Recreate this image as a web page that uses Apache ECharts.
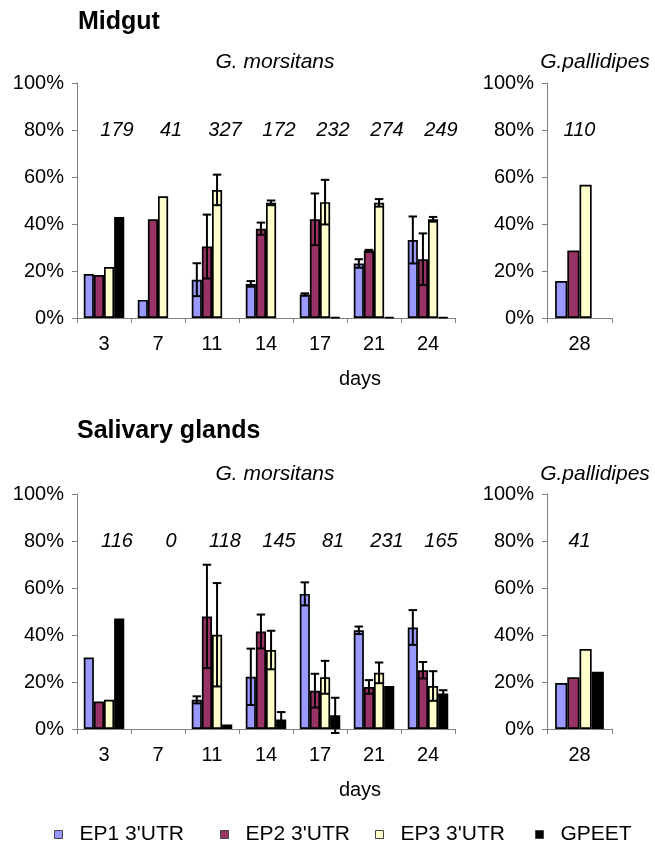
<!DOCTYPE html>
<html><head><meta charset="utf-8">
<script src="https://cdn.jsdelivr.net/npm/echarts@6/dist/echarts.min.js"></script>
<style>html,body{margin:0;padding:0;background:#fff}#c{width:655px;height:842px}</style>
</head><body><div id="c"></div>
<script>
// ---------- data ----------
const seriesNames = ["EP1 3'UTR", "EP2 3'UTR", "EP3 3'UTR", "GPEET"];
const seriesColors = ['#9999FF', '#993366', '#FFFFCC', '#000000'];
const morsDays = ['3', '7', '11', '14', '17', '21', '24'];
const pallDays = ['28'];
const yTicks = [0, 20, 40, 60, 80, 100];

// Midgut – G. morsitans
const midEP1 = [18.7, 7.7, 16.3, 14.5, 10.0, 23.2, 33.2];
const midEP2 = [18.3, 42.0, 30.4, 38.0, 42.0, 28.6, 25.0];
const midEP3 = [21.7, 51.8, 54.5, 49.0, 49.3, 49.0, 42.0];
const midGPEET = [43.0, null, null, null, 0.4, 0.4, 0.4];
const midEP1Err = [null, null, 7.0, 1.2, 0.5, 1.8, 10.0];
const midEP2Err = [null, null, 13.6, 2.6, 11.0, 0.4, 11.0];
const midEP3Err = [null, null, 6.5, 1.0, 9.5, 1.6, 1.0];
const midGPEETErr = [null, null, null, null, null, null, null];
const midCounts = [179, 41, 327, 172, 232, 274, 249];

// Midgut – G. pallidipes
const midPallEP1 = [15.7];
const midPallEP2 = [28.7];
const midPallEP3 = [56.7];
const midPallGPEET = [null];
const midPallCounts = [110];

// Salivary glands – G. morsitans
const salEP1 = [30.4, null, 12.4, 22.2, 57.5, 42.0, 43.2];
const salEP2 = [11.7, null, 47.9, 41.5, 16.3, 17.9, 25.0];
const salEP3 = [12.4, null, 40.1, 33.6, 22.0, 23.9, 18.3];
const salGPEET = [47.0, null, 1.9, 4.0, 5.8, 18.3, 15.1];
const salEP1Err = [null, null, 1.5, 12.0, 4.9, 1.6, 7.4];
const salEP2Err = [null, null, 22.0, 7.2, 7.2, 2.9, 3.5];
const salEP3Err = [null, null, 22.0, 8.2, 7.0, 4.4, 6.3];
const salGPEETErr = [null, null, null, 3.2, 7.5, null, 1.4];
const salCounts = [116, 0, 118, 145, 81, 231, 165];

// Salivary glands – G. pallidipes
const salPallEP1 = [19.6];
const salPallEP2 = [22.0];
const salPallEP3 = [34.0];
const salPallGPEET = [24.4];
const salPallCounts = [41];

// ---------- layout ----------
const FONT = 'Liberation Sans, Arial, Helvetica, sans-serif';
const GAP = 0.25;
const panels = [
  { grid: { left: 77, top: 83, width: 378, height: 235 }, cats: morsDays,
    vals: [midEP1, midEP2, midEP3, midGPEET], errs: [midEP1Err, midEP2Err, midEP3Err, midGPEETErr], counts: midCounts },
  { grid: { left: 547, top: 83, width: 65, height: 235 }, cats: pallDays,
    vals: [midPallEP1, midPallEP2, midPallEP3, midPallGPEET], errs: null, counts: midPallCounts },
  { grid: { left: 77, top: 494, width: 378, height: 235 }, cats: morsDays,
    vals: [salEP1, salEP2, salEP3, salGPEET], errs: [salEP1Err, salEP2Err, salEP3Err, salGPEETErr], counts: salCounts },
  { grid: { left: 547, top: 494, width: 65, height: 235 }, cats: pallDays,
    vals: [salPallEP1, salPallEP2, salPallEP3, salPallGPEET], errs: null, counts: salPallCounts }
];

const grids = [], xAxes = [], yAxes = [], series = [];
panels.forEach((p, gi) => {
  grids.push(Object.assign({ containLabel: false }, p.grid));
  xAxes.push({
    type: 'category', gridIndex: gi, data: p.cats, boundaryGap: true,
    axisLine: { lineStyle: { color: '#808080', width: 1 } },
    axisTick: { show: true, length: 5, alignWithLabel: false, lineStyle: { color: '#808080' } },
    axisLabel: { fontSize: 20, color: '#000', fontFamily: FONT, margin: 16 },
    splitLine: { show: false }
  });
  yAxes.push({
    type: 'value', gridIndex: gi, min: yTicks[0], max: yTicks[yTicks.length - 1], interval: 20,
    axisLine: { show: true, lineStyle: { color: '#808080', width: 1 } },
    axisTick: { show: true, length: 5, lineStyle: { color: '#808080' } },
    axisLabel: { formatter: '{value}%', fontSize: 20, color: '#000', fontFamily: FONT, margin: 13 },
    splitLine: { show: false }
  });
  p.vals.forEach((arr, si) => {
    series.push({
      type: 'bar', name: seriesNames[si], xAxisIndex: gi, yAxisIndex: gi,
      data: arr, barGap: '0%', barCategoryGap: (GAP * 100) + '%',
      itemStyle: { color: seriesColors[si], borderColor: '#000', borderWidth: 1.7 },
      emphasis: { disabled: true }, animation: false
    });
  });
  if (p.errs) {
    const errData = [];
    p.errs.forEach((arr, si) => arr.forEach((e, ci) => {
      if (e != null && p.vals[si][ci] != null) errData.push([ci, si, p.vals[si][ci], e]);
    }));
    series.push({
      type: 'custom', xAxisIndex: gi, yAxisIndex: gi, data: errData, z: 10,
      encode: { x: 0, y: 2 }, animation: false, silent: true, clip: false,
      renderItem: function (params, api) {
        const ci = api.value(0), si = api.value(1), v = api.value(2), e = api.value(3);
        const band = api.size([1, 0])[0];
        const w = band * (1 - GAP) / 4;
        const cx = api.coord([ci, 0])[0] - band * (1 - GAP) / 2 + w * (si + 0.5);
        const top = api.coord([ci, v + e])[1];
        const bot = api.coord([ci, v - e])[1];
        const hw = w * 0.42;
        const st = { stroke: '#000', lineWidth: 2 };
        return { type: 'group', children: [
          { type: 'line', shape: { x1: cx, y1: top, x2: cx, y2: bot }, style: st },
          { type: 'line', shape: { x1: cx - hw, y1: top, x2: cx + hw, y2: top }, style: st },
          { type: 'line', shape: { x1: cx - hw, y1: bot, x2: cx + hw, y2: bot }, style: st }
        ] };
      }
    });
  }
  series.push({
    type: 'custom', xAxisIndex: gi, yAxisIndex: gi, z: 11, animation: false, silent: true,
    data: p.counts.map((c, ci) => [ci, 80, c]), encode: { x: 0, y: 1 },
    renderItem: function (params, api) {
      const pt = api.coord([api.value(0), api.value(1)]);
      const off = p.cats.length > 1 ? 13 : 0;
      return { type: 'text', x: pt[0] + off, y: pt[1],
        style: { text: String(api.value(2)), fill: '#000', font: 'italic 20px ' + FONT,
                 textAlign: 'center', textVerticalAlign: 'middle' } };
    }
  });
});

const legendX = [49, 215, 370, 530];
const legends = seriesNames.map((n, i) => ({
  data: [n], left: legendX[i], top: 819, icon: 'rect', itemWidth: 8, itemHeight: 8,
  itemStyle: { borderColor: '#444', borderWidth: 1 },
  selectedMode: false,
  textStyle: { fontSize: 21, color: '#000', fontFamily: FONT, padding: [0, 0, 0, 12] }
}));

function txt(x, y, text, font, align) {
  return { type: 'text', x: x, y: y, silent: true,
    style: { text: text, font: font, fill: '#000', textAlign: align || 'center', textVerticalAlign: 'middle' } };
}
const graphics = [
  txt(78, 22, 'Midgut', 'bold 25px ' + FONT, 'left'),
  txt(275, 62, 'G. morsitans', 'italic 21px ' + FONT),
  txt(595, 62, 'G.pallidipes', 'italic 21px ' + FONT),
  txt(360, 379, 'days', '20px ' + FONT),
  txt(77, 431, 'Salivary glands', 'bold 25px ' + FONT, 'left'),
  txt(275, 474, 'G. morsitans', 'italic 21px ' + FONT),
  txt(595, 474, 'G.pallidipes', 'italic 21px ' + FONT),
  txt(360, 790, 'days', '20px ' + FONT)
];

const chart = echarts.init(document.getElementById('c'), null, { renderer: 'canvas' });
chart.setOption({
  backgroundColor: '#fff', animation: false,
  grid: grids, xAxis: xAxes, yAxis: yAxes, series: series,
  legend: legends, graphic: graphics
});
</script></body></html>
